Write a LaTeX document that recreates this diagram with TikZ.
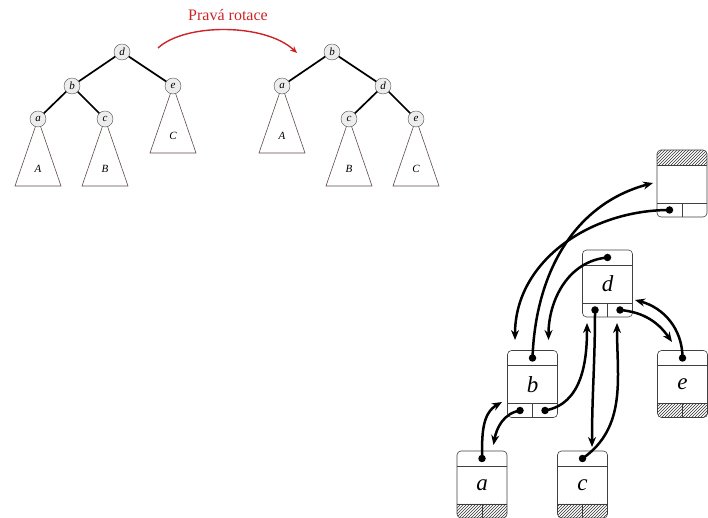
\documentclass[tikz,border=0pt]{standalone}
\usepackage{fontspec}
\setmainfont{Liberation Serif}
\usetikzlibrary{calc,arrows.meta,patterns,backgrounds}

\definecolor{cervena}{RGB}{205,35,40}
\definecolor{hnedoseda}{RGB}{95,75,75}

\tikzset{
  krouzek/.style={draw=black!70,fill=black!7,circle,inner sep=0pt,minimum size=16pt,font=\fontsize{11}{11}\selectfont\itshape},
  hrana/.style={line width=1.7pt},
  trojuhelnik/.style={draw=hnedoseda,line width=0.6pt},
  podstrom/.style={font=\fontsize{11}{11}\selectfont\itshape},
  rotace/.style={draw=cervena,line width=1.4pt,-{Stealth[length=7pt,width=6pt]}},
  popis/.style={text=cervena,font=\fontsize{16}{16}\selectfont},
  zaznam/.style={draw=black!75,line width=0.6pt,rounded corners=4pt,minimum width=50pt,minimum height=67pt,inner sep=0pt,outer sep=0pt},
  tenka/.style={draw=black!75,line width=0.6pt},
  srafa/.style={pattern=north east lines,pattern color=black!80},
  pismeno/.style={font=\fontsize{23}{23}\selectfont\itshape},
  tecka/.style={circle,fill=black,inner sep=0pt,minimum size=7.5pt},
  sipka/.style={line width=2.5pt,-{Stealth[length=10pt,width=8pt]}}
}

% record box: name, position, key
\newcommand{\zaznam}[3]{%
  \node[zaznam] at (#2) (#1) {};
  \draw[tenka] ($(#1.north west)+(0,-15)$) -- ($(#1.north east)+(0,-15)$);
  \draw[tenka] ($(#1.south west)+(0,14)$) -- ($(#1.south east)+(0,14)$);
  \draw[tenka] ($(#1.south)+(0,14)$) -- (#1.south);
  \node[pismeno] at ($(#1.center)+(0,-0.5)$) (#1-p) {#3};
}
\newcommand{\srafahore}[1]{%
  \path[srafa,rounded corners=4pt] ($(#1.north west)+(0,-15)$) -- (#1.north west) -- (#1.north east) -- ($(#1.north east)+(0,-15)$);
}
\newcommand{\srafadole}[1]{%
  \path[srafa,rounded corners=4pt] ($(#1.south west)+(0,14)$) -- (#1.south west) -- (#1.south east) -- ($(#1.south east)+(0,14)$);
}

\begin{document}
\begin{tikzpicture}[x=1pt,y=1pt]
\useasboundingbox (0,0) rectangle (708,518);

% tree before the rotation
\node[krouzek] at (122,466) (d1) {d};
\node[krouzek] at (72,432) (b1) {b};
\node[krouzek] at (173,432) (e1) {e};
\node[krouzek] at (38,399) (a1) {a};
\node[krouzek] at (105,399) (c1) {c};
\draw[hrana] (d1) -- (b1);
\draw[hrana] (d1) -- (e1);
\draw[hrana] (b1) -- (a1);
\draw[hrana] (b1) -- (c1);
\begin{scope}[on background layer]
\draw[trojuhelnik] (a1.center) -- ++(-23,-67) -- ++(46,0) -- cycle;
\draw[trojuhelnik] (c1.center) -- ++(-23,-67) -- ++(46,0) -- cycle;
\draw[trojuhelnik] (e1.center) -- ++(-23,-67) -- ++(46,0) -- cycle;
\end{scope}
\node[podstrom] at (38,349) (A1) {A};
\node[podstrom] at (105,349) (B1) {B};
\node[podstrom] at (173,382) (C1) {C};

% tree after the rotation
\node[krouzek] at (332,466) (b2) {b};
\node[krouzek] at (282,432) (a2) {a};
\node[krouzek] at (383,432) (d2) {d};
\node[krouzek] at (349,399) (c2) {c};
\node[krouzek] at (416,399) (e2) {e};
\draw[hrana] (b2) -- (a2);
\draw[hrana] (b2) -- (d2);
\draw[hrana] (d2) -- (c2);
\draw[hrana] (d2) -- (e2);
\begin{scope}[on background layer]
\draw[trojuhelnik] (a2.center) -- ++(-23,-67) -- ++(46,0) -- cycle;
\draw[trojuhelnik] (c2.center) -- ++(-23,-67) -- ++(46,0) -- cycle;
\draw[trojuhelnik] (e2.center) -- ++(-23,-67) -- ++(46,0) -- cycle;
\end{scope}
\node[podstrom] at (282,382) (A2) {A};
\node[podstrom] at (349,349) (B2) {B};
\node[podstrom] at (416,349) (C2) {C};

\node[popis] at (228,503) (rot) {Pravá rotace};
\coordinate (rot-z) at (158,470);
\coordinate (rot-k) at (297,465);
\draw[rotace] (rot-z) .. controls (185,495) and (265,495) .. (rot-k);

% linked records
\zaznam{P}{682,334.5}{}
\zaznam{d}{607.5,234.5}{d}
\zaznam{b}{532.5,134}{b}
\zaznam{e}{682.5,134}{e}
\zaznam{a}{482,33.5}{a}
\zaznam{c}{582.5,33.5}{c}
\srafahore{P}
\srafadole{e}
\srafadole{a}
\srafadole{c}

\node[tecka] at ($(P.south)+(-12.5,7)$) (P-l) {};
\node[tecka] at ($(d.north)+(0,-7.5)$) (d-t) {};
\node[tecka] at ($(d.south)+(-12.5,7)$) (d-l) {};
\node[tecka] at ($(d.south)+(12.5,7)$) (d-r) {};
\node[tecka] at ($(b.north)+(0,-7.5)$) (b-t) {};
\node[tecka] at ($(b.south)+(-12.5,7)$) (b-l) {};
\node[tecka] at ($(b.south)+(12.5,7)$) (b-r) {};
\node[tecka] at ($(e.north)+(0,-7.5)$) (e-t) {};
\node[tecka] at ($(a.north)+(0,-7.5)$) (a-t) {};
\node[tecka] at ($(c.north)+(0,-7.5)$) (c-t) {};

\coordinate (b-vl) at (515,178);
\coordinate (b-vp) at (548.5,178);
\coordinate (P-z) at (653,335);
\coordinate (d-zl) at (587,195);
\coordinate (d-zp) at (617,195);
\coordinate (d-v) at (635,218);
\coordinate (c-v) at (592,71);
\coordinate (e-v) at (672,176);
\coordinate (a-v) at (493.5,73);
\coordinate (b-z) at (502,116);

\draw[sipka] (P-l.center) to[out=180,in=90] (b-vl);
\draw[sipka] (b-t.center) to[out=88,in=195] (P-z);
\draw[sipka] (d-t.center) to[out=185,in=90] (b-vp);
\draw[sipka] (b-r.center) to[out=10,in=-90] (d-zl);
\draw[sipka] (d-l.center) to[out=-90,in=90] (c-v);
\draw[sipka] (c-t.center) to[out=35,in=-90] (d-zp);
\draw[sipka] (d-r.center) to[out=-5,in=125] (e-v);
\draw[sipka] (e-t.center) to[out=90,in=-15] (d-v);
\draw[sipka] (a-t.center) to[out=90,in=210] (b-z);
\draw[sipka] (b-l.center) to[out=190,in=80] (a-v);
\end{tikzpicture}
\end{document}
